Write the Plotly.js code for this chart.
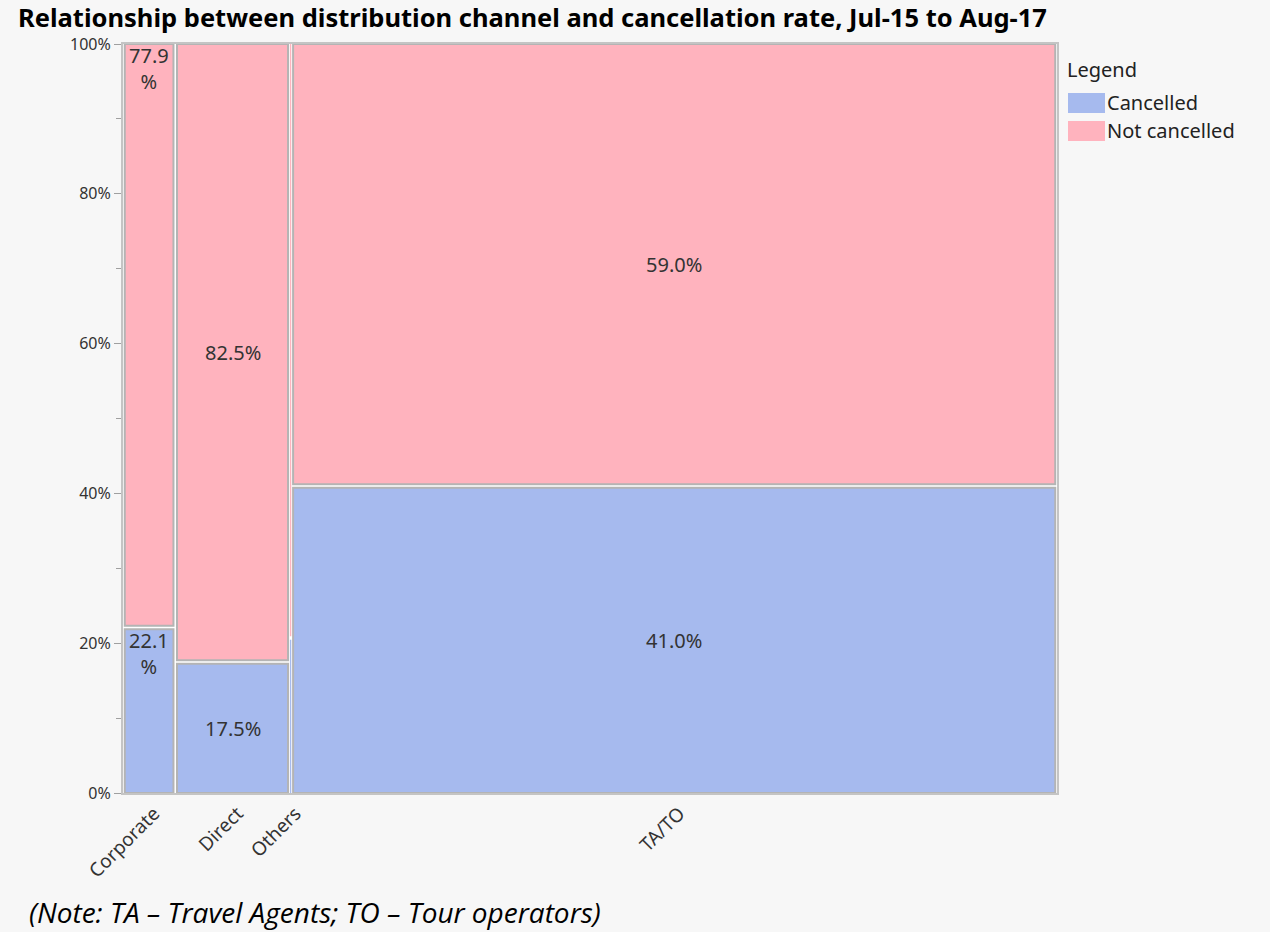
<!DOCTYPE html>
<html>
<head>
<meta charset="utf-8">
<script src="https://cdn.plot.ly/plotly-3.0.1.min.js"></script>
<style>
html,body{margin:0;padding:0;background:#f7f7f7;}
#chart{width:1270px;height:932px;}
</style>
</head>
<body>
<div id="chart"></div>
<script>
// ---- data ----
const channels = ["Corporate", "Direct", "Others", "TA/TO"];
const bookings = [6677, 14645, 198, 97870];          // column widths (booking counts)
const cancelledPct = [22.1, 17.5, 20.7, 41.0];       // % cancelled per channel
const notCancelledPct = [77.9, 82.5, 79.3, 59.0];    // % not cancelled per channel
const showLabel = [true, true, false, true];
const seriesNames = ["Cancelled", "Not cancelled"];
const seriesColors = ["#a6baee", "#ffb3be"];
const yTicks = [0, 20, 40, 60, 80, 100];

// ---- layout geometry ----
const W = 1270, H = 932;
const M = {l: 123, r: 213, t: 44, b: 139};
const plotW = W - M.l - M.r, plotH = H - M.t - M.b;
const total = bookings.reduce((a, b) => a + b, 0);
const gapX = 3.5 * total / plotW;   // white gap between cells, in data units
const gapY = 3.5 * 100 / plotH;

const lefts = [];
let acc = 0;
bookings.forEach(c => { lefts.push(acc); acc += c; });
const centers = bookings.map((c, i) => lefts[i] + c / 2);
const widths = bookings.map(c => Math.max(c - gapX, c * 0.9));
const lineW = bookings.map(c => (c - gapX) > 0 ? 2 : 0);

const cancelTrace = {
  type: 'bar', name: seriesNames[0], x: centers, width: widths,
  base: cancelledPct.map(() => 0),
  y: cancelledPct.map(p => p - gapY / 2),
  marker: {color: seriesColors[0], line: {color: '#b4b4b4', width: lineW}},
  hoverinfo: 'skip', showlegend: false
};
const notTrace = {
  type: 'bar', name: seriesNames[1], x: centers, width: widths,
  base: cancelledPct.map(p => p + gapY / 2),
  y: notCancelledPct.map(p => p - gapY / 2),
  marker: {color: seriesColors[1], line: {color: '#b4b4b4', width: lineW}},
  hoverinfo: 'skip', showlegend: false
};

// ---- cell labels ----
const annFont = {family: 'Noto Sans, DejaVu Sans, sans-serif', size: 20, color: '#333333'};
const annotations = [];
channels.forEach((ch, i) => {
  if (!showLabel[i]) return;
  const pxW = bookings[i] / total * plotW;
  const narrow = pxW < 80;
  const segs = [
    {v: cancelledPct[i], lo: 0, hi: cancelledPct[i] - gapY / 2},
    {v: notCancelledPct[i], lo: cancelledPct[i] + gapY / 2, hi: 100}
  ];
  segs.forEach(s => {
    const txt = s.v.toFixed(1) + (narrow ? '<br>%' : '%');
    annotations.push({
      xref: 'x', yref: 'y', x: centers[i],
      y: narrow ? s.hi : (s.lo + s.hi) / 2,
      yanchor: narrow ? 'top' : 'middle', xanchor: 'center',
      text: txt, showarrow: false, font: annFont,
      yshift: narrow ? 4 : 0
    });
  });
});

// ---- custom legend ----
const px2x = px => (px - M.l) / plotW;
const px2y = py => (H - M.b - py) / plotH;
const shapes = [];
const legFont = {family: 'Noto Sans, sans-serif', size: 20, color: '#222'};
annotations.push({
  xref: 'paper', yref: 'paper', x: px2x(1065), y: px2y(70), xanchor: 'left', yanchor: 'middle',
  text: 'Legend', showarrow: false, font: legFont
});
seriesNames.forEach((nm, k) => {
  const top = 93 + k * 28;
  shapes.push({type: 'rect', xref: 'paper', yref: 'paper',
    x0: px2x(1068), x1: px2x(1105), y0: px2y(top), y1: px2y(top + 20),
    fillcolor: seriesColors[k], line: {width: 0}});
  annotations.push({
    xref: 'paper', yref: 'paper', x: px2x(1105), y: px2y(top + 10), xanchor: 'left', yanchor: 'middle',
    text: nm, showarrow: false, font: legFont
  });
});

// ---- note ----
annotations.push({
  xref: 'paper', yref: 'paper', x: px2x(27), y: px2y(912), xanchor: 'left', yanchor: 'middle',
  text: '(Note: TA \u2013 Travel Agents; TO \u2013 Tour operators)', showarrow: false,
  font: {family: 'Open Sans, sans-serif', size: 28, color: '#000', style: 'italic'}
});

const layout = {
  width: W, height: H,
  margin: M,
  paper_bgcolor: '#f7f7f7',
  plot_bgcolor: '#ffffff',
  barmode: 'overlay',
  title: {
    text: '<b>Relationship between distribution channel and cancellation rate, Jul-15 to Aug-17</b>',
    xref: 'container', yref: 'container', x: 18 / W, xanchor: 'left',
    y: 1 - 18 / H, yanchor: 'middle',
    font: {family: 'Noto Sans, DejaVu Sans, sans-serif', size: 25.5, color: '#000'}
  },
  xaxis: {
    range: [0, total], showgrid: false, zeroline: false,
    tickmode: 'array', tickvals: centers, ticktext: channels, tickangle: -45,
    ticklabelshift: 5,
    ticks: '', tickfont: {family: 'Noto Sans, sans-serif', size: 19, color: '#333'},
    showline: true, mirror: true, linecolor: '#c4c4c4', linewidth: 2, fixedrange: true
  },
  yaxis: {
    range: [0, 100], showgrid: false, zeroline: false,
    tickmode: 'array', tickvals: yTicks, ticktext: yTicks.map(v => v + '%'),
    ticks: 'outside', ticklen: 7, tickcolor: '#a0a0a0', tickwidth: 1,
    minor: {dtick: 10, ticks: 'outside', ticklen: 5, tickcolor: '#a0a0a0'},
    tickfont: {family: 'Noto Sans, sans-serif', size: 16, color: '#333'},
    showline: true, mirror: true, linecolor: '#c4c4c4', linewidth: 2, fixedrange: true
  },
  shapes: shapes,
  annotations: annotations
};

Plotly.newPlot('chart', [cancelTrace, notTrace], layout, {displayModeBar: false, staticPlot: true});
</script>
</body>
</html>
